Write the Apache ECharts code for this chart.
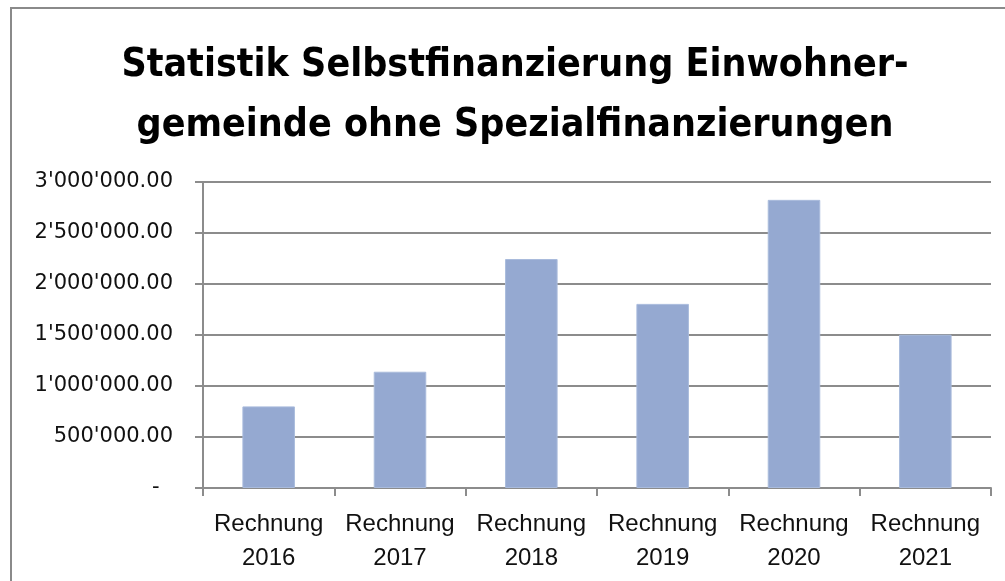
<!DOCTYPE html>
<html>
<head>
<meta charset="utf-8">
<script src="https://cdn.jsdelivr.net/npm/echarts@6/dist/echarts.min.js"></script>
<style>
html,body{margin:0;padding:0;background:#fff;}
#chart{width:1005px;height:581px;}
</style>
</head>
<body>
<div id="chart"></div>
<script>
const titleText = "Statistik Selbstfinanzierung Einwohner-\ngemeinde ohne Spezialfinanzierungen";
const categories = ["Rechnung\n2016", "Rechnung\n2017", "Rechnung\n2018", "Rechnung\n2019", "Rechnung\n2020", "Rechnung\n2021"];
const values = [800000, 1140000, 2245000, 1805000, 2825000, 1503000];
const yMin = 0, yMax = 3000000, yStep = 500000;

function fmt(v) {
  if (v === 0) return "-  ";
  const s = Math.round(v).toString().replace(/\B(?=(\d{3})+(?!\d))/g, "'");
  return s + ".00";
}

const chart = echarts.init(document.getElementById('chart'), null, {renderer: 'canvas'});
chart.setOption({
  animation: false,
  backgroundColor: '#ffffff',
  title: {
    text: titleText,
    left: 510,
    top: 31,
    textAlign: 'center',
    textStyle: {
      fontFamily: "'Liberation Sans Narrow', 'DejaVu Sans Condensed', 'Liberation Sans', sans-serif",
      fontWeight: 'bold',
      fontSize: 39,
      lineHeight: 60,
      color: '#000'
    }
  },
  graphic: [{
    type: 'rect',
    shape: {x: 11, y: 8, width: 1010, height: 600},
    style: {fill: 'none', stroke: '#8a8a8a', lineWidth: 2},
    silent: true
  }],
  grid: {left: 203, right: 14, top: 182, bottom: 93, containLabel: false},
  xAxis: {
    type: 'category',
    data: categories,
    axisLine: {show: true, lineStyle: {color: '#8c8c8c', width: 2}},
    axisTick: {show: true, interval: 0, length: 8, lineStyle: {color: '#8c8c8c', width: 2}},
    axisLabel: {
      interval: 0,
      margin: 19,
      fontFamily: "'Liberation Sans', Arial, sans-serif",
      fontSize: 24,
      lineHeight: 34,
      color: '#111'
    }
  },
  yAxis: {
    type: 'value',
    min: yMin, max: yMax, interval: yStep,
    axisLine: {show: true, lineStyle: {color: '#8c8c8c', width: 2}},
    axisTick: {show: true, length: 8, lineStyle: {color: '#8c8c8c', width: 2}},
    splitLine: {show: true, lineStyle: {color: '#8c8c8c', width: 2}},
    axisLabel: {
      margin: 30,
      formatter: fmt,
      fontFamily: "'DejaVu Sans', sans-serif",
      fontSize: 21,
      color: '#111'
    }
  },
  series: [{
    type: 'bar',
    data: values,
    barWidth: '40%',
    itemStyle: {color: '#95a9d1', borderColor: '#a9bbdc', borderWidth: 1}
  }]
});
</script>
</body>
</html>
